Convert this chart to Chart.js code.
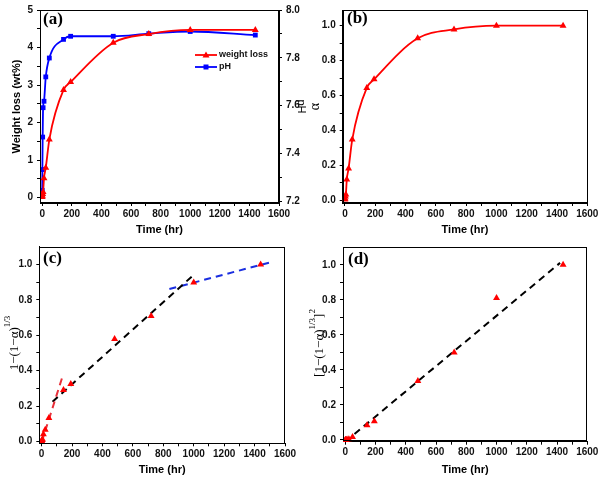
<!DOCTYPE html>
<html lang="en">
<head>
<meta charset="UTF-8">
<title>Weight loss kinetics</title>
<script src="https://cdn.jsdelivr.net/npm/chart.js"></script>
<style>
  body { margin: 0; background: #fff; }
  #wrap { position: relative; width: 601px; height: 482px; }
  #wrap canvas { position: absolute; left: 0; top: 0; }
</style>
</head>
<body>
<div id="wrap">
  <canvas id="pa" width="601" height="482"></canvas>
  <canvas id="pb" width="601" height="482"></canvas>
  <canvas id="pc" width="601" height="482"></canvas>
  <canvas id="pd" width="601" height="482"></canvas>
</div>
<script>
const timeHr      = [0, 1, 3, 6, 12, 24, 48, 144, 192, 480, 720, 1000, 1440];
const weightLoss  = [0.02, 0.05, 0.1, 0.15, 0.52, 0.8, 1.55, 2.87, 3.08, 4.13, 4.36, 4.47, 4.47];
const phValue     = [7.245, 7.332, 7.468, 7.591, 7.618, 7.72, 7.799, 7.877, 7.89, 7.89, 7.901, 7.91, 7.895];
const alpha       = [0.005, 0.011, 0.022, 0.034, 0.119, 0.183, 0.348, 0.644, 0.693, 0.928, 0.979, 1.0, 1.0];
const coreModel   = [0.002, 0.004, 0.008, 0.012, 0.041, 0.066, 0.133, 0.291, 0.325, 0.579, 0.709, 0.898, 1.0];
const coreModelSq = [0.0, 0.0, 0.0, 0.001, 0.002, 0.004, 0.017, 0.084, 0.107, 0.337, 0.5, 0.81, 1.0];

// dashed fit lines, [time, value] end points
const fitEarly     = [[0, -0.005], [135, 0.36]];
const fitMiddle    = [[72, 0.225], [1005, 0.945]];
const fitLate      = [[840, 0.861], [1500, 1.011]];
const fitDiffusion = [[0, -0.01], [1420, 1.011]];

// tick labels
const timeTicks  = [0, 200, 400, 600, 800, 1000, 1200, 1400, 1600];
const wlTicks    = [0, 1, 2, 3, 4, 5];
const phTicks    = [7.2, 7.4, 7.6, 7.8, 8.0];
const fracTicks  = [0, 0.2, 0.4, 0.6, 0.8, 1.0];

const RED = '#ff0000', BLUE = '#0000ff';
const sans = '"Liberation Sans", Arial, sans-serif';
const serif = '"Liberation Serif", "Times New Roman", serif';
const tickFont = { family: sans, size: 10, weight: 'bold' };
const titleFont = { family: sans, size: 11, weight: 'bold' };

function pts(ys) { return timeHr.map((t, i) => ({ x: t, y: ys[i] })); }
function seg(line) { return line.map(p => ({ x: p[0], y: p[1] })); }

function withMinor(majors) {
  const out = [];
  majors.forEach((v, i) => {
    out.push({ value: v });
    if (i < majors.length - 1) out.push({ value: (v + majors[i + 1]) / 2 });
  });
  return out;
}

function axis(o) {
  return {
    type: 'linear', position: o.position, min: o.min, max: o.max,
    afterBuildTicks: s => { s.ticks = withMinor(o.ticks); },
    afterFit: s => { if (o.position === 'bottom') s.height = o.size; else s.width = o.size; },
    grid: { drawOnChartArea: false, drawTicks: true, tickLength: 3, tickColor: '#000' },
    border: { display: true, color: '#000', width: 1 },
    ticks: {
      font: tickFont, color: '#111', padding: o.pad, autoSkip: false, maxRotation: 0, minRotation: 0,
      callback: (v, i) => i % 2 ? '' : Number(v).toFixed(o.dec)
    },
    title: o.title
      ? { display: true, text: o.title, font: o.titleFont || titleFont, color: '#000', padding: 0 }
      : { display: false }
  };
}

function timeAxis(size) {
  return axis({ position: 'bottom', min: -15, max: 1600, ticks: timeTicks, dec: 0, pad: 2, size: size, title: 'Time (hr)' });
}

// frame, panel tag, inner legend and the superscript y titles
const decor = {
  id: 'decor',
  afterDraw(chart, args, o) {
    const ctx = chart.ctx, a = chart.chartArea;
    ctx.save();
    ctx.strokeStyle = '#000';
    ctx.lineWidth = 1;
    ctx.strokeRect(Math.round(a.left) + 0.5, Math.round(a.top) + 0.5,
      Math.round(a.right - a.left) - 1, Math.round(a.bottom - a.top) - 1);

    ctx.fillStyle = '#000';
    ctx.font = 'bold 17px ' + serif;
    ctx.textAlign = 'left';
    ctx.textBaseline = 'middle';
    ctx.fillText(o.tag[0], o.tag[1], o.tag[2]);

    if (o.legend) {
      let y = o.legend.y;
      chart.data.datasets.forEach(ds => {
        const x0 = o.legend.x, x1 = x0 + 22, xm = (x0 + x1) / 2;
        ctx.strokeStyle = ds.borderColor;
        ctx.lineWidth = 1.8;
        ctx.beginPath(); ctx.moveTo(x0, y); ctx.lineTo(x1, y); ctx.stroke();
        ctx.fillStyle = ds.borderColor;
        ctx.beginPath();
        if (ds.pointStyle === 'triangle') {
          ctx.moveTo(xm, y - 3.5); ctx.lineTo(xm + 3.5, y + 2.5); ctx.lineTo(xm - 3.5, y + 2.5);
        } else {
          ctx.rect(xm - 2.5, y - 2.5, 5, 5);
        }
        ctx.fill();
        ctx.fillStyle = '#111';
        ctx.font = 'bold 9px ' + sans;
        ctx.fillText(ds.label, x1 + 2, y);
        y += o.legend.step;
      });
    }

    if (o.yTitle) {
      const t = o.yTitle;
      ctx.translate(t.x, t.y);
      ctx.rotate(-Math.PI / 2);
      let total = 0;
      t.parts.forEach(p => { ctx.font = p.size + 'px ' + serif; p.w = ctx.measureText(p.text).width; total += p.w; });
      let x = -total / 2;
      ctx.fillStyle = '#000';
      t.parts.forEach(p => {
        ctx.font = p.size + 'px ' + serif;
        ctx.fillText(p.text, x, p.dy);
        x += p.w;
      });
    }
    ctx.restore();
  }
};

const base = (pad) => ({
  responsive: false, animation: false, events: [],
  layout: { padding: pad },
  plugins: { legend: { display: false }, tooltip: { enabled: false } }
});

function markers(label, ys, style, color, radius, line) {
  return {
    label: label, data: pts(ys), borderColor: color, backgroundColor: color,
    pointStyle: style, pointRadius: radius, pointBorderWidth: 0,
    showLine: line, borderWidth: 1.8, cubicInterpolationMode: 'monotone'
  };
}
function dashed(line, color) {
  return {
    label: '', data: seg(line), borderColor: color, borderWidth: 2, borderDash: [7, 5],
    pointRadius: 0, showLine: true, order: 5
  };
}

// (a) weight loss and pH
const optA = base({ left: 10.4, right: 293.4, top: 7, bottom: 245.4 });
optA.scales = {
  x: timeAxis(33.6),
  y: axis({ position: 'left', min: -0.14, max: 5, ticks: wlTicks, dec: 0, pad: 4, size: 29.6, title: 'Weight loss (wt%)' }),
  y2: axis({ position: 'right', min: 7.192, max: 8.0, ticks: phTicks, dec: 1, pad: 4, size: 28.6, title: 'pH',
    titleFont: { family: sans, size: 11, weight: 'normal' } })
};
optA.plugins.decor = { tag: ['(a)', 43, 20], legend: { x: 195, y: 55, step: 12 } };
new Chart(document.getElementById('pa'), {
  type: 'line',
  data: { datasets: [
    Object.assign(markers('weight loss', weightLoss, 'triangle', RED, 4, true), { yAxisID: 'y' }),
    Object.assign(markers('pH', phValue, 'rect', BLUE, 3.4, true), { yAxisID: 'y2' })
  ] },
  options: optA,
  plugins: [decor]
});

// (b) conversion fraction
const optB = base({ left: 306.6, right: 13.7, top: 7, bottom: 245.4 });
optB.scales = {
  x: timeAxis(33.6),
  y: axis({ position: 'left', min: -0.015, max: 1.09, ticks: fracTicks, dec: 1, pad: 4, size: 36.1, title: 'α',
    titleFont: { family: serif, size: 14, weight: 'normal' } })
};
optB.plugins.decor = { tag: ['(b)', 347, 19] };
new Chart(document.getElementById('pb'), {
  type: 'line',
  data: { datasets: [markers('α', alpha, 'triangle', RED, 4, true)] },
  options: optB,
  plugins: [decor]
});

// (c) chemical reaction control model
const optC = base({ left: 9.3, right: 316, top: 246.7, bottom: 5.4 });
optC.scales = {
  x: timeAxis(33.3),
  y: axis({ position: 'left', min: -0.01, max: 1.1, ticks: fracTicks, dec: 1, pad: 4, size: 30 })
};
optC.plugins.decor = {
  tag: ['(c)', 43, 259],
  yTitle: { x: 15, y: 343, parts: [
    { text: '1−(1−α)', size: 13, dy: 0 },
    { text: '1/3', size: 9, dy: -7 }
  ] }
};
new Chart(document.getElementById('pc'), {
  type: 'line',
  data: { datasets: [
    markers('data', coreModel, 'triangle', RED, 4, false),
    dashed(fitEarly, '#e8303a'),
    dashed(fitMiddle, '#000000'),
    dashed(fitLate, '#1a2ee0')
  ] },
  options: optC,
  plugins: [decor]
});

// (d) diffusion control model
const optD = base({ left: 313, right: 13.7, top: 247.3, bottom: 5.4 });
optD.scales = {
  x: timeAxis(34.9),
  y: axis({ position: 'left', min: -0.01, max: 1.1, ticks: fracTicks, dec: 1, pad: 4, size: 30 })
};
optD.plugins.decor = {
  tag: ['(d)', 348, 260],
  yTitle: { x: 320, y: 343, parts: [
    { text: '[1−(1−α)', size: 13, dy: 0 },
    { text: '1/3', size: 9, dy: -7 },
    { text: ']', size: 13, dy: 0 },
    { text: '2', size: 9, dy: -7 }
  ] }
};
new Chart(document.getElementById('pd'), {
  type: 'line',
  data: { datasets: [
    markers('data', coreModelSq, 'triangle', RED, 4, false),
    dashed(fitDiffusion, '#000000')
  ] },
  options: optD,
  plugins: [decor]
});
</script>
</body>
</html>
